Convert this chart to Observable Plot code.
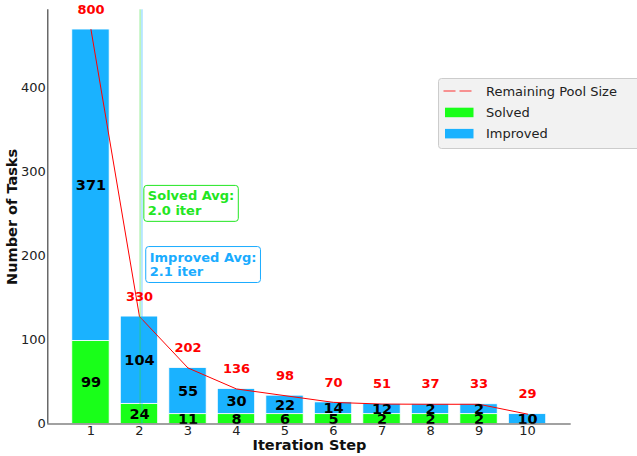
<!DOCTYPE html>
<html>
<head>
<meta charset="utf-8">
<script src="https://cdn.jsdelivr.net/npm/d3@7"></script>
<script src="https://cdn.jsdelivr.net/npm/@observablehq/plot@0.6"></script>
<style>
  html, body { margin: 0; padding: 0; background: #fff; overflow: hidden; }
  #chart { width: 637px; height: 456px; }
  g[aria-label="x-axis label"] text, g[aria-label="y-axis label"] text { font-weight: bold; font-size: 14.5px; fill: #111; }
</style>
</head>
<body>
<div id="chart"></div>
<script>
// ---- data ----
const steps = [1, 2, 3, 4, 5, 6, 7, 8, 9, 10];
const solved = [99, 24, 11, 8, 6, 5, 2, 2, 2, 0];
const improved = [371, 104, 55, 30, 22, 14, 12, 2, 2, 10];
const poolSize = [800, 330, 202, 136, 98, 70, 51, 37, 33, 29];
const yTicks = [0, 100, 200, 300, 400];
const seriesNames = ["Solved", "Improved"];
const lineName = "Remaining Pool Size";

// ---- styles ----
const GREEN = "#19ff19";
const BLUE = "#1ab2ff";
const GREEN_TXT = "#22e622";
const BLUE_TXT = "#1aacff";
const RED = "#ff0000";
const FONT = "DejaVu Sans";

// ---- derived ----
const maxTotal = d3.max(steps, (s, i) => solved[i] + improved[i]);
const minH = maxTotal * 0.025; // minimal visible segment height
const disp = v => (v > 0 ? Math.max(v, minH) : 0);

const rows = steps.map((s, i) => {
  const sh = disp(solved[i]);
  const ih = disp(improved[i]);
  return { step: s, solved: solved[i], improved: improved[i], sh, ih, total: sh + ih, pool: poolSize[i] };
});
const segments = rows.flatMap(r => [
  { step: r.step, series: "Solved", value: r.solved, y1: 0, y2: r.sh },
  { step: r.step, series: "Improved", value: r.improved, y1: r.sh, y2: r.sh + r.ih }
]).filter(d => d.value > 0);

const solvedAvg = d3.sum(steps, (s, i) => s * solved[i]) / d3.sum(solved);
const improvedAvg = d3.sum(steps, (s, i) => s * improved[i]) / d3.sum(improved);

const yMax = d3.max(rows, r => r.total) * 1.05;
const xDomain = [0.11, 10.9];
const half = 0.385;

const plot = Plot.plot({
  width: 637,
  height: 456,
  marginLeft: 47.3,
  marginRight: 66.3,
  marginTop: 9.3,
  marginBottom: 32.5,
  style: { fontFamily: FONT, fontSize: "13px", color: "#222", background: "white", overflow: "visible" },
  x: { type: "linear", domain: xDomain },
  y: { domain: [0, yMax] },
  color: { domain: seriesNames, range: [GREEN, BLUE] },
  marks: [
    Plot.rect(segments, {
      x1: d => d.step - half, x2: d => d.step + half,
      y1: "y1", y2: "y2", fill: "series", stroke: "white", strokeWidth: 0.8
    }),
    Plot.line(rows, { x: "step", y: "total", stroke: RED, strokeWidth: 1 }),
    Plot.ruleX([solvedAvg], { stroke: "#33dd33", strokeOpacity: 0.8, strokeWidth: 0.7 }),
    Plot.ruleX([improvedAvg], { stroke: BLUE, strokeOpacity: 0.85, strokeWidth: 0.7 }),
    Plot.text(segments, {
      x: "step", y: d => (d.y1 + d.y2) / 2, text: d => String(d.value),
      fill: "black", fontWeight: "bold", fontSize: 14.5, fontFamily: FONT
    }),
    Plot.text(rows, {
      x: "step", y: "total", dy: -20, text: d => String(d.pool),
      fill: RED, fontWeight: "bold", fontSize: 13, fontFamily: FONT
    }),
    Plot.text([{ x: solvedAvg + 0.16, y: maxTotal * 0.56, t: `Solved Avg:\n${solvedAvg.toFixed(1)} iter` }], {
      x: "x", y: "y", text: "t", textAnchor: "start", lineAnchor: "middle", lineHeight: 1.15,
      fill: GREEN_TXT, fontWeight: "bold", fontSize: 13, fontFamily: FONT, className: "annot-solved"
    }),
    Plot.text([{ x: improvedAvg + 0.16, y: maxTotal * 0.405, t: `Improved Avg:\n${improvedAvg.toFixed(1)} iter` }], {
      x: "x", y: "y", text: "t", textAnchor: "start", lineAnchor: "middle", lineHeight: 1.15,
      fill: BLUE_TXT, fontWeight: "bold", fontSize: 13, fontFamily: FONT, className: "annot-improved"
    }),
    Plot.axisX({ ticks: steps, tickSize: 0, tickPadding: 2, tickFormat: d => String(d), fontSize: 13,
      label: "Iteration Step", labelAnchor: "center", labelOffset: 26, labelArrow: "none" }),
    Plot.axisY({ ticks: yTicks, tickSize: 0, tickPadding: 2, fontSize: 13,
      label: "Number of Tasks", labelAnchor: "center", labelOffset: 41, labelArrow: "none" }),
    Plot.ruleY([0], { stroke: "#444", strokeWidth: 1.2 }),
    Plot.ruleX([xDomain[0]], { stroke: "#444", strokeWidth: 1.2 })
  ]
});

document.getElementById("chart").appendChild(plot);
const svg = d3.select(plot);

// boxes around annotations
[["annot-solved", GREEN_TXT], ["annot-improved", BLUE_TXT]].forEach(([cls, col]) => {
  svg.selectAll(`g.${cls} text`).each(function () {
    const bb = this.getBBox();
    const pad = 4;
    d3.select(this.parentNode).insert("rect", () => this)
      .attr("transform", this.getAttribute("transform"))
      .attr("x", bb.x - pad).attr("y", bb.y - pad + 1)
      .attr("width", bb.width + 2 * pad).attr("height", bb.height + 2 * pad - 2)
      .attr("rx", 3).attr("fill", "white").attr("stroke", col).attr("stroke-width", 1);
  });
});

// legend
const lg = svg.append("g").attr("transform", "translate(438.5,78.5)")
  .attr("text-anchor", "start").style("font-family", FONT).style("font-size", "13px");
lg.append("rect").attr("width", 215).attr("height", 70).attr("rx", 3)
  .attr("fill", "#f2f2f2").attr("stroke", "#cccccc").attr("stroke-width", 1);
const items = [
  { name: lineName, kind: "line", color: RED },
  { name: seriesNames[0], kind: "rect", color: GREEN },
  { name: seriesNames[1], kind: "rect", color: BLUE }
];
items.forEach((it, i) => {
  const cy = 12.5 + i * 21.2;
  if (it.kind === "line") {
    lg.append("line").attr("x1", 5).attr("x2", 36).attr("y1", cy).attr("y2", cy)
      .attr("stroke", it.color).attr("stroke-opacity", 0.8).attr("stroke-width", 1.2).attr("stroke-dasharray", "12,4");
  } else {
    lg.append("rect").attr("x", 6.5).attr("y", cy - 4.5).attr("width", 28.5).attr("height", 9.5).attr("fill", it.color);
  }
  lg.append("text").attr("x", 47.5).attr("y", cy).attr("dy", "0.35em").attr("text-anchor", "start")
    .attr("fill", "#222").text(it.name);
});
</script>
</body>
</html>
